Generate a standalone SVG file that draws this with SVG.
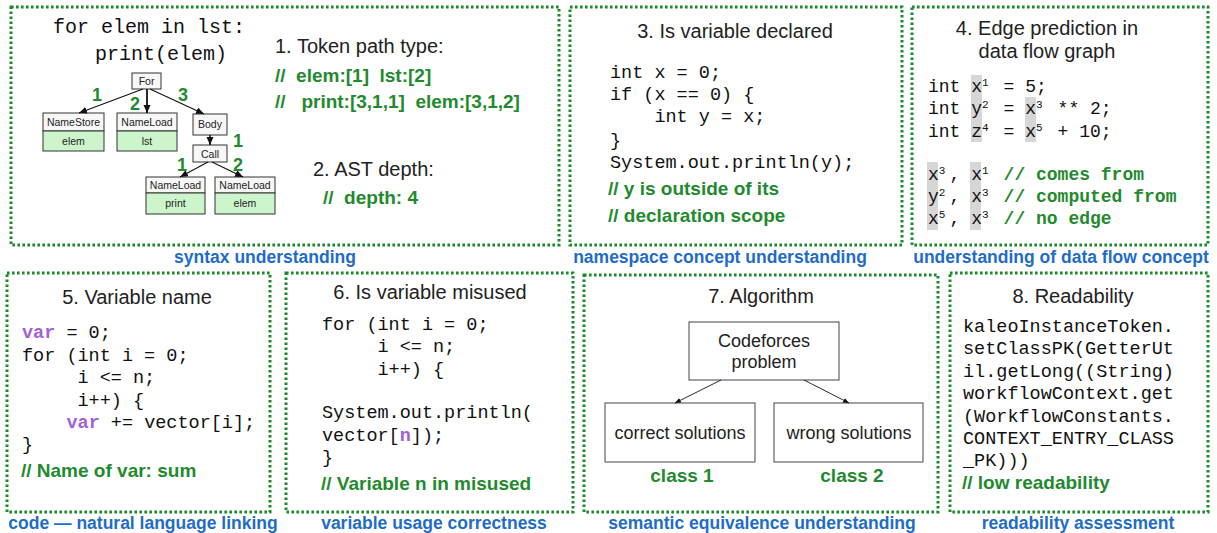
<svg xmlns="http://www.w3.org/2000/svg" width="1217" height="533" viewBox="0 0 1217 533">
<style>
.panel{fill:none;stroke:#1a8a2a;stroke-width:3;stroke-dasharray:2.6 2.4}
.title{font-family:"Liberation Sans",Arial,sans-serif;font-size:20px;fill:#222;text-anchor:middle}
.label{font-family:"Liberation Sans",Arial,sans-serif;font-size:17.5px;font-weight:bold;fill:#1f6cc8;text-anchor:middle}
.code{font-family:"Liberation Mono","Courier New",monospace;font-size:18.5px;fill:#111;white-space:pre}
.com{font-family:"Liberation Sans",Arial,sans-serif;font-size:19px;font-weight:bold;fill:#1f8a2e;white-space:pre}
.mcom{font-weight:bold;fill:#1f8a2e}
.var{font-weight:bold;fill:#a35fd8}
.sup{font-size:11px}
.hl{fill:#d6d6d6}
.nh{fill:#f7f7f7;stroke:#333;stroke-width:1}
.nb{fill:#ccf5cc;stroke:#333;stroke-width:1}
.nt{font-family:"Liberation Sans",Arial,sans-serif;font-size:10.5px;fill:#222;text-anchor:middle}
.num{font-family:"Liberation Sans",Arial,sans-serif;font-size:18px;font-weight:bold;fill:#1f8a2e;text-anchor:middle}
.edge{stroke:#111;stroke-width:1.1;fill:none}
.box{fill:#fff;stroke:#444;stroke-width:1}
.bt{font-family:"Liberation Sans",Arial,sans-serif;font-size:18px;fill:#222;text-anchor:middle}
.cls{font-family:"Liberation Sans",Arial,sans-serif;font-size:19px;font-weight:bold;fill:#1f8a2e;text-anchor:middle}
</style>
<defs>
<marker id="ah" markerUnits="userSpaceOnUse" markerWidth="9" markerHeight="8" refX="8" refY="3.5" orient="auto">
<path d="M0,0 L8,3.5 L0,7 z" fill="#111"/>
</marker>
<marker id="ahs" markerUnits="userSpaceOnUse" markerWidth="7" markerHeight="6" refX="6" refY="2.5" orient="auto">
<path d="M0,0 L6,2.5 L0,5 z" fill="#111"/>
</marker>
</defs>
<rect width="1217" height="533" fill="#fff"/>

<!-- Panel 1 -->
<g id="panel1">
<rect class="panel" x="11" y="7" width="548" height="238"/>
<text class="code" x="53" y="33" style="font-size:20px">for elem in lst:</text>
<text class="code" x="95" y="60" style="font-size:20px">print(elem)</text>
<text class="title" x="275" y="53" style="text-anchor:start">1. Token path type:</text>
<text class="com" x="275" y="82">//  elem:[1]  lst:[2]</text>
<text class="com" x="275" y="108">//   print:[3,1,1]  elem:[3,1,2]</text>
<text class="title" x="313" y="176" style="text-anchor:start">2. AST depth:</text>
<text class="com" x="323" y="204">//  depth: 4</text>
<text class="label" x="265" y="263">syntax understanding</text>
</g>
<g id="node-for"><rect class="nh" x="132" y="73" width="29" height="16"/><text class="nt" x="146.5" y="85">For</text></g>
<g id="node-namestore"><rect class="nh" x="43" y="113" width="61" height="18"/><rect class="nb" x="43" y="131" width="61" height="20"/><text class="nt" x="73.5" y="126">NameStore</text><text class="nt" x="73.5" y="145">elem</text></g>
<g id="node-nameload-lst"><rect class="nh" x="117" y="113" width="60" height="18"/><rect class="nb" x="117" y="131" width="60" height="20"/><text class="nt" x="147" y="126">NameLoad</text><text class="nt" x="147" y="145">lst</text></g>
<g id="node-body"><rect class="nh" x="193" y="114" width="34" height="21"/><text class="nt" x="210" y="128">Body</text></g>
<g id="node-call"><rect class="nh" x="193" y="145" width="34" height="17"/><text class="nt" x="210" y="157.5">Call</text></g>
<g id="node-nameload-print"><rect class="nh" x="146" y="177" width="59" height="16"/><rect class="nb" x="146" y="193" width="59" height="21"/><text class="nt" x="175.5" y="189">NameLoad</text><text class="nt" x="175.5" y="207">print</text></g>
<g id="node-nameload-elem"><rect class="nh" x="215" y="177" width="60" height="16"/><rect class="nb" x="215" y="193" width="60" height="21"/><text class="nt" x="245" y="189">NameLoad</text><text class="nt" x="245" y="207">elem</text></g>

<!-- Panel 3 -->
<g id="panel3">
<rect class="panel" x="570" y="7" width="332" height="238"/>
<text class="title" x="735" y="38">3. Is variable declared</text>
<text class="code" x="610" y="78">int x = 0;</text>
<text class="code" x="610" y="100">if (x == 0) {</text>
<text class="code" x="610" y="122">    int y = x;</text>
<text class="code" x="610" y="146">}</text>
<text class="code" x="610" y="168">System.out.println(y);</text>
<text class="com" x="608" y="195">// y is outside of its</text>
<text class="com" x="608" y="222">// declaration scope</text>
<text class="label" x="720" y="263">namespace concept understanding</text>
</g>

<!-- Panel 4 -->
<g id="panel4">
<rect class="panel" x="912" y="7" width="296" height="238"/>
<rect class="hl" x="971" y="75" width="11" height="67"/>
<rect class="hl" x="1025" y="97" width="11" height="45"/>
<rect class="hl" x="927" y="162" width="11" height="68"/>
<rect class="hl" x="970" y="162" width="11" height="68"/>
<text class="title" x="1047" y="35">4. Edge prediction in</text>
<text class="title" x="1047" y="58">data flow graph</text>
<g class="code" style="font-size:18px">
<text x="928" y="92">int x<tspan class="sup" x="982" dy="-6">1</tspan><tspan x="992.8" dy="6"> = 5;</tspan></text>
<text x="928" y="114">int y<tspan class="sup" x="982" dy="-6">2</tspan><tspan x="992.8" dy="6"> = x</tspan><tspan class="sup" x="1036" dy="-6">3</tspan><tspan x="1046.8" dy="6"> ** 2;</tspan></text>
<text x="928" y="137">int z<tspan class="sup" x="982" dy="-6">4</tspan><tspan x="992.8" dy="6"> = x</tspan><tspan class="sup" x="1036" dy="-6">5</tspan><tspan x="1046.8" dy="6"> + 10;</tspan></text>
<text x="928" y="180">x<tspan class="sup" x="938.8" dy="-6">3</tspan><tspan x="949.6" dy="6">, x</tspan><tspan class="sup" x="982" dy="-6">1</tspan><tspan class="mcom" x="992.8" dy="6"> // comes from</tspan></text>
<text x="928" y="202">y<tspan class="sup" x="938.8" dy="-6">2</tspan><tspan x="949.6" dy="6">, x</tspan><tspan class="sup" x="982" dy="-6">3</tspan><tspan class="mcom" x="992.8" dy="6"> // computed from</tspan></text>
<text x="928" y="224">x<tspan class="sup" x="938.8" dy="-6">5</tspan><tspan x="949.6" dy="6">, x</tspan><tspan class="sup" x="982" dy="-6">3</tspan><tspan class="mcom" x="992.8" dy="6"> // no edge</tspan></text>
</g>
<text class="label" x="1061" y="263">understanding of data flow concept</text>
</g>

<!-- Panel 5 -->
<g id="panel5">
<rect class="panel" x="7" y="273" width="263" height="239"/>
<text class="title" x="137" y="304">5. Variable name</text>
<text class="code" x="22" y="338"><tspan class="var">var</tspan> = 0;</text>
<text class="code" x="22" y="361">for (int i = 0;</text>
<text class="code" x="22" y="383">     i &lt;= n;</text>
<text class="code" x="22" y="406">     i++) {</text>
<text class="code" x="22" y="428">    <tspan class="var">var</tspan> += vector[i];</text>
<text class="code" x="22" y="450">}</text>
<text class="com" x="21" y="477">// Name of var: sum</text>
<text class="label" x="143" y="529">code — natural language linking</text>
</g>

<!-- Panel 6 -->
<g id="panel6">
<rect class="panel" x="286" y="273" width="287" height="239"/>
<text class="title" x="430" y="299">6. Is variable misused</text>
<text class="code" x="322" y="330">for (int i = 0;</text>
<text class="code" x="322" y="352">     i &lt;= n;</text>
<text class="code" x="322" y="375">     i++) {</text>
<text class="code" x="322" y="418">System.out.println(</text>
<text class="code" x="322" y="441">vector[<tspan class="var">n</tspan>]);</text>
<text class="code" x="322" y="463">}</text>
<text class="com" x="321" y="490">// Variable n in misused</text>
<text class="label" x="434" y="529">variable usage correctness</text>
</g>

<!-- Panel 7 -->
<g id="panel7">
<rect class="panel" x="584" y="275" width="354" height="237"/>
<text class="title" x="761" y="303">7. Algorithm</text>
<text class="cls" x="682" y="482">class 1</text>
<text class="cls" x="852" y="482">class 2</text>
<text class="label" x="762" y="529">semantic equivalence understanding</text>
</g>
<g id="node-codeforces"><rect class="box" x="689" y="322" width="150" height="58"/><text class="bt" x="764" y="347">Codeforces</text><text class="bt" x="764" y="368">problem</text></g>
<g id="node-correct"><rect class="box" x="605" y="403" width="150" height="59"/><text class="bt" x="680" y="439">correct solutions</text></g>
<g id="node-wrong"><rect class="box" x="774" y="403" width="149" height="59"/><text class="bt" x="849" y="439">wrong solutions</text></g>

<!-- Panel 8 -->
<g id="panel8">
<rect class="panel" x="950" y="273" width="258" height="239"/>
<text class="title" x="1073" y="303">8. Readability</text>
<text class="code" x="963" y="332">kaleoInstanceToken.</text>
<text class="code" x="963" y="354">setClassPK(GetterUt</text>
<text class="code" x="963" y="377">il.getLong((String)</text>
<text class="code" x="963" y="399">workflowContext.get</text>
<text class="code" x="963" y="422">(WorkflowConstants.</text>
<text class="code" x="963" y="444">CONTEXT_ENTRY_CLASS</text>
<text class="code" x="963" y="466">_PK)))</text>
<text class="com" x="962" y="489">// low readability</text>
<text class="label" x="1078" y="529">readability assessment</text>
</g>

<!-- Connectors -->
<g id="connectors">
<line class="edge" x1="143" y1="89" x2="79" y2="113" marker-end="url(#ah)"/>
<line class="edge" x1="147" y1="89" x2="147" y2="113" style="stroke-width:1.8" marker-end="url(#ah)"/>
<line class="edge" x1="150" y1="89" x2="204" y2="114" marker-end="url(#ah)"/>
<line class="edge" x1="210" y1="135" x2="210" y2="145" style="stroke-width:1.6" marker-end="url(#ah)"/>
<line class="edge" x1="208" y1="162" x2="180" y2="177" marker-end="url(#ah)"/>
<line class="edge" x1="212" y1="162" x2="243" y2="177" marker-end="url(#ah)"/>
<text class="num" x="97" y="101">1</text>
<text class="num" x="135" y="110">2</text>
<text class="num" x="183" y="101">3</text>
<text class="num" x="238" y="147">1</text>
<text class="num" x="182" y="171">1</text>
<text class="num" x="238" y="171">2</text>
<line class="edge" x1="721" y1="380" x2="675" y2="403" style="stroke-width:0.9" marker-end="url(#ahs)"/>
<line class="edge" x1="804" y1="380" x2="849" y2="403" style="stroke-width:0.9" marker-end="url(#ahs)"/>
</g>
</svg>
